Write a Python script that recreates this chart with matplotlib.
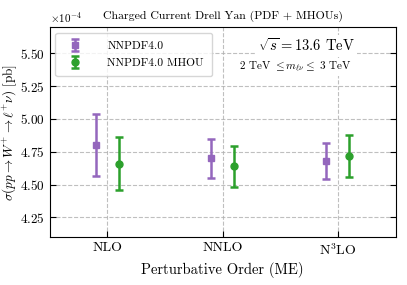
import matplotlib
matplotlib.use("Agg")
import matplotlib.pyplot as plt
import numpy as np

plt.rcParams['font.family'] = 'serif'
plt.rcParams['font.serif'] = ['cmr10']
plt.rcParams['mathtext.fontset'] = 'cm'
plt.rcParams['axes.formatter.use_mathtext'] = True
plt.rcParams['axes.unicode_minus'] = False

orders = ['NLO', 'NNLO', r'N$^3$LO']
nnpdf_central = [4.80e-4, 4.70e-4, 4.68e-4]
nnpdf_err = [0.235e-4, 0.146e-4, 0.135e-4]
mhou_central = [4.66e-4, 4.64e-4, 4.72e-4]
mhou_err = [0.20e-4, 0.157e-4, 0.16e-4]

fig, ax = plt.subplots(figsize=(4.07, 2.85), dpi=100)
fig.subplots_adjust(left=0.122, right=0.972, top=0.905, bottom=0.168)

x = np.arange(len(orders))
shift = 0.1
ax.errorbar(x - shift, nnpdf_central, yerr=nnpdf_err, fmt='s', color='#9467bd',
            markersize=5, capsize=3, elinewidth=1.8, capthick=1.8, label='NNPDF4.0', zorder=3)
ax.errorbar(x + shift, mhou_central, yerr=mhou_err, fmt='o', color='#2ca02c',
            markersize=5, capsize=3, elinewidth=1.8, capthick=1.8, label='NNPDF4.0 MHOU', zorder=3)

ax.set_xticks(x)
ax.set_xticklabels(orders, fontsize=10)
ax.set_xlim(-0.5, 2.5)
ax.set_ylim(4.1e-4, 5.7e-4)
ax.set_yticks(np.arange(4.25e-4, 5.51e-4, 0.25e-4))
ax.ticklabel_format(axis='y', style='sci', scilimits=(-4, -4))
ax.yaxis.get_offset_text().set_fontsize(8)
ax.tick_params(axis='y', labelsize=9.5)
ax.tick_params(direction='in', right=True, length=4)
ax.grid(True, linestyle='--', color='#b0b0b0', alpha=0.8)

ax.set_xlabel('Perturbative Order (ME)', fontsize=10.5, labelpad=3)
ax.set_ylabel(r'$\sigma(pp \rightarrow W^{+} \rightarrow \ell^{+}\nu)$ [pb]', fontsize=9.5, labelpad=1)
ax.set_title('Charged Current Drell Yan (PDF + MHOUs)', fontsize=8.5)

ax.text(0.742, 0.91, r'$\sqrt{s} = 13.6$ TeV', transform=ax.transAxes, ha='center', va='center',
        fontsize=10.5, bbox=dict(facecolor='white', edgecolor='none', pad=2))
ax.text(0.71, 0.81, r'2 TeV $\leq m_{\ell\nu} \leq$ 3 TeV', transform=ax.transAxes, ha='center',
        va='center', fontsize=8, bbox=dict(facecolor='white', edgecolor='none', pad=1))

ax.legend(loc='upper left', fontsize=8.3, handletextpad=1.8, borderpad=0.7, labelspacing=0.6)

fig.savefig('out.png', dpi=100)
